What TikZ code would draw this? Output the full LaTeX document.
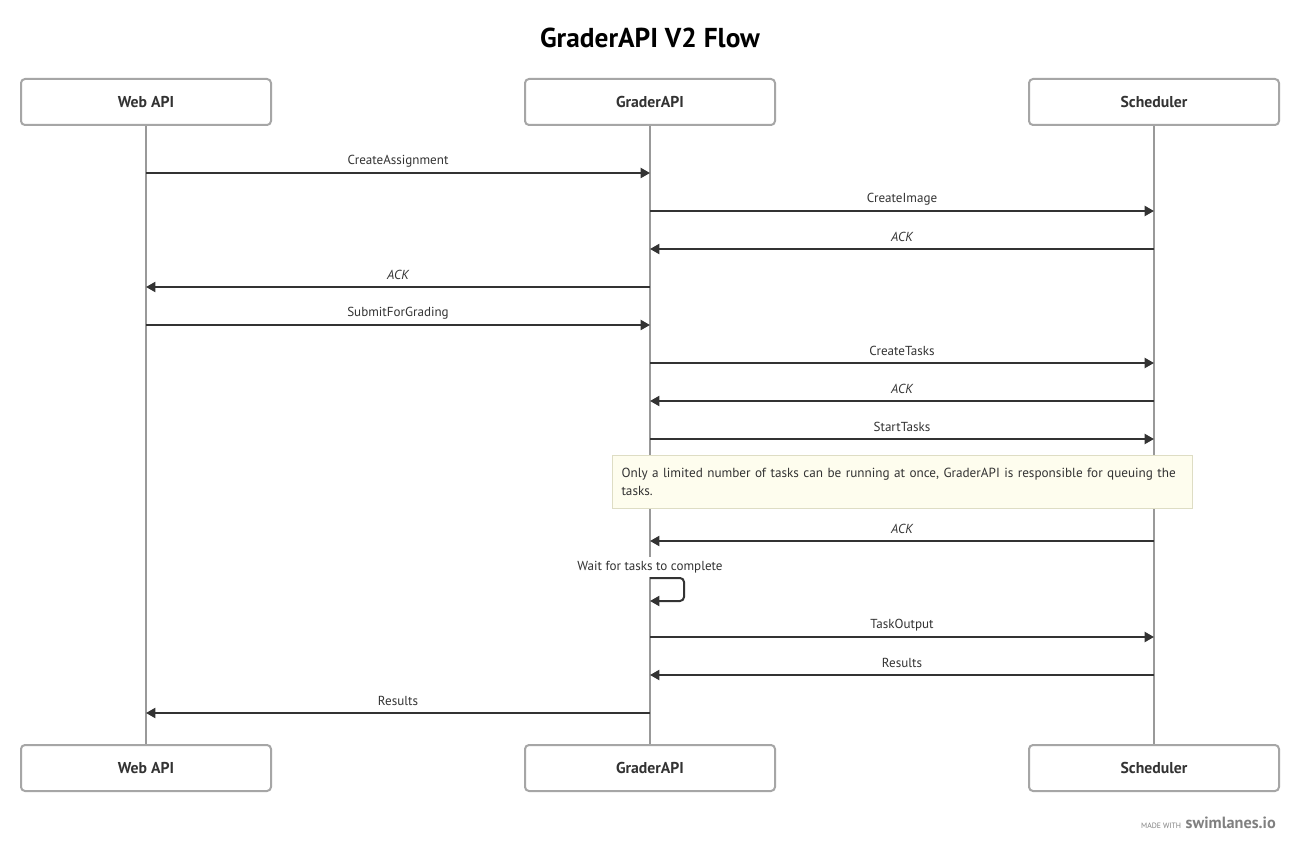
\documentclass[tikz,border=0pt]{standalone}
\usepackage{fontspec}
\setmainfont{PT Sans}
\usetikzlibrary{arrows.meta}
\definecolor{txt}{HTML}{333333}
\definecolor{boxline}{HTML}{A6A6A6}
\definecolor{lifec}{HTML}{999999}
\definecolor{notefill}{HTML}{FEFDEE}
\definecolor{noteline}{HTML}{DEDDC4}
\definecolor{brandc}{HTML}{808080}
\tikzset{
  actor/.style={draw=boxline, line width=1.5pt, rounded corners=3pt, fill=white,
    minimum width=187.5pt, minimum height=34.5pt, inner sep=0pt,
    font=\bfseries\fontsize{11.8pt}{13pt}\selectfont, text=txt},
  life/.style={draw=lifec, line width=1.5pt},
  msg/.style={draw=txt, line width=1.5pt, -{Triangle[length=7pt,width=7.5pt]}},
  lbl/.style={font=\fontsize{9.8pt}{12pt}\selectfont, text=txt, inner sep=1pt},
  ilbl/.style={lbl, font=\itshape\fontsize{9.8pt}{12pt}\selectfont},
  notebox/.style={draw=noteline, line width=0.75pt, fill=notefill, anchor=north west,
    minimum width=435pt, minimum height=39.75pt, text width=421.5pt, align=left,
    inner xsep=6.75pt, inner ysep=0pt, font=\fontsize{9.9pt}{13.5pt}\selectfont, text=txt}
}
\begin{document}
\begin{tikzpicture}[x=0.75pt,y=-0.75pt]
\useasboundingbox (0,0) rectangle (1300,852);
\fill[white] (0,0) rectangle (1300,852);

\node[font=\bfseries\fontsize{20.5pt}{25pt}\selectfont, text=black] (title) at (650,38) {GraderAPI V2 Flow};

% actors
\node[actor] (wa) at (146,102) {Web API};
\node[actor] (ga) at (650,102) {GraderAPI};
\node[actor] (sc) at (1154,102) {Scheduler};
\node[actor] (wab) at (146,768) {Web API};
\node[actor] (gab) at (650,768) {GraderAPI};
\node[actor] (scb) at (1154,768) {Scheduler};

% lifelines
\draw[life] (wa.south) -- (wab.north);
\draw[life] (ga.south) -- (gab.north);
\draw[life] (sc.south) -- (scb.north);

% messages
\coordinate (w1) at (146,173); \coordinate (g1) at (650,173);
\draw[msg] (w1) -- (g1);
\node[lbl] (l1) at (398,161) {CreateAssignment};

\coordinate (g2) at (650,211); \coordinate (s2) at (1154,211);
\draw[msg] (g2) -- (s2);
\node[lbl] (l2) at (902,199) {CreateImage};

\coordinate (s3) at (1154,249); \coordinate (g3) at (650,249);
\draw[msg] (s3) -- (g3);
\node[ilbl] (l3) at (902,237) {ACK};

\coordinate (g4) at (650,287); \coordinate (w4) at (146,287);
\draw[msg] (g4) -- (w4);
\node[ilbl] (l4) at (398,275) {ACK};

\coordinate (w5) at (146,325); \coordinate (g5) at (650,325);
\draw[msg] (w5) -- (g5);
\node[lbl] (l5) at (398,313) {SubmitForGrading};

\coordinate (g6) at (650,363); \coordinate (s6) at (1154,363);
\draw[msg] (g6) -- (s6);
\node[lbl] (l6) at (902,351) {CreateTasks};

\coordinate (s7) at (1154,401); \coordinate (g7) at (650,401);
\draw[msg] (s7) -- (g7);
\node[ilbl] (l7) at (902,389) {ACK};

\coordinate (g8) at (650,439); \coordinate (s8) at (1154,439);
\draw[msg] (g8) -- (s8);
\node[lbl] (l8) at (902,427) {StartTasks};

% note
\node[notebox] (note) at (612,455) {Only a limited number of tasks can be running at once, GraderAPI is responsible for queuing the\\tasks.};

\coordinate (s9) at (1154,541); \coordinate (g9) at (650,541);
\draw[msg] (s9) -- (g9);
\node[ilbl] (l9) at (902,529) {ACK};

% self message
\node[lbl, fill=white, inner ysep=3pt] (l10) at (650,567) {Wait for tasks to complete};
\coordinate (g10a) at (650,578); \coordinate (g10b) at (650,601);
\draw[msg, rounded corners=3pt] (g10a) -- (684,578) -- (684,601) -- (g10b);

\coordinate (g11) at (650,637); \coordinate (s11) at (1154,637);
\draw[msg] (g11) -- (s11);
\node[lbl] (l11) at (902,625) {TaskOutput};

\coordinate (s12) at (1154,675); \coordinate (g12) at (650,675);
\draw[msg] (s12) -- (g12);
\node[lbl] (l12) at (902,663) {Results};

\coordinate (g13) at (650,713); \coordinate (w13) at (146,713);
\draw[msg] (g13) -- (w13);
\node[lbl] (l13) at (398,701) {Results};

% footer
\node[anchor=base east, inner sep=0pt, text=brandc, font=\bfseries\fontsize{12.2pt}{13pt}\selectfont] (brand) at (1276,828) {swimlanes.io};
\node[anchor=base east, inner sep=0pt, text=brandc, font=\fontsize{5.8pt}{6pt}\selectfont] (made) at ([xshift=-3pt]brand.base west) {MADE WITH};
\end{tikzpicture}
\end{document}
